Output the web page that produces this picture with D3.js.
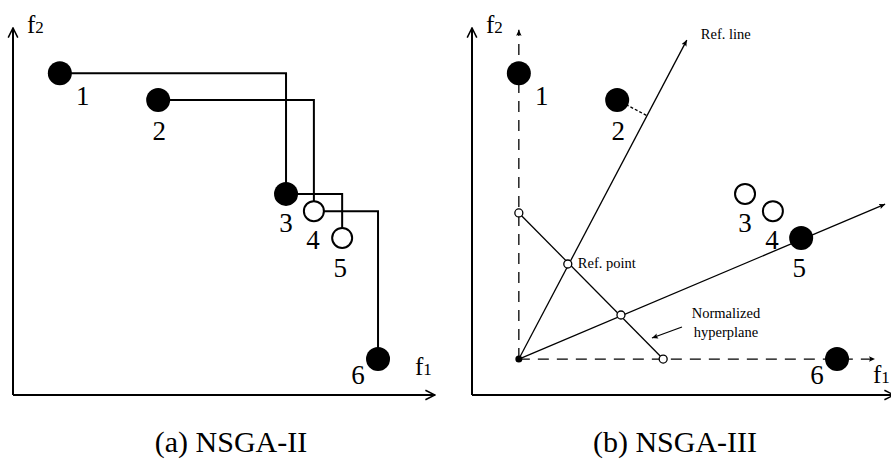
<!DOCTYPE html>
<html>
<head>
<meta charset="utf-8">
<script src="https://cdn.jsdelivr.net/npm/d3@7"></script>
<style>
  html, body { margin: 0; padding: 0; background: #fff; }
  svg { display: block; font-family: "Liberation Serif", "DejaVu Serif", serif; }
</style>
</head>
<body>
<div id="chart"></div>
<script>
// Solutions in objective space (same six points in both panels)
var solLabels = ['1', '2', '3', '4', '5', '6'];
var solF1 = [1.11, 3.44, 6.47, 7.13, 7.80, 8.65];
var solF2 = [8.77, 8.04, 5.48, 5.01, 4.28, 0.98];
// which solutions survive (filled) in each panel
var keptA = [true, true, true, false, false, true];
var keptB = [true, true, false, false, true, true];

// NSGA-III reference structure
var hyperInterceptF1 = 4.53;
var hyperInterceptF2 = 4.96;
var refPointF1 = [2.27, 3.53];
var refPointF2 = [3.57, 2.18];
var refLineEndF1 = [5.09, 9.79];
var refLineEndF2 = [9.67, 5.20];

var captions = ['(a) NSGA-II', '(b) NSGA-III'];

var W = 891, H = 462;
var PANEL_W = 422, PANEL_H = 367;
var panelOrigins = [{ x: 13, y: 395 }, { x: 472, y: 395 }];
var captionX = [231, 675];
var CAPTION_Y = 452;

var x = d3.scaleLinear().domain([0, 10]).range([0, PANEL_W]);
var y = d3.scaleLinear().domain([0, 10]).range([0, -PANEL_H]);

// label offsets (px) relative to the solution centre
var labelDx = [23, 1, 0, -1, -2, -20];
var labelDy = [32, 40, 38, 38, 39, 25];

var svg = d3.select('#chart').append('svg')
  .attr('width', W)
  .attr('height', H);

var defs = svg.append('defs');
defs.append('marker')
  .attr('id', 'axis-arrow')
  .attr('viewBox', '0 0 10 10')
  .attr('refX', 9)
  .attr('refY', 5)
  .attr('markerWidth', 6)
  .attr('markerHeight', 6)
  .attr('markerUnits', 'strokeWidth')
  .attr('orient', 'auto')
  .append('path')
  .attr('d', 'M1,1 L9,5 L1,9')
  .attr('fill', 'none')
  .attr('stroke', '#000')
  .attr('stroke-width', 1.3);
defs.append('marker')
  .attr('id', 'thin-arrow')
  .attr('viewBox', '0 0 10 10')
  .attr('refX', 10)
  .attr('refY', 5)
  .attr('markerWidth', 6)
  .attr('markerHeight', 6)
  .attr('markerUnits', 'userSpaceOnUse')
  .attr('orient', 'auto')
  .append('path')
  .attr('d', 'M0,0.5 L10,5 L0,9.5 L2,5 z')
  .attr('fill', '#000');

var sols = solLabels.map(function(l, i) {
  return { label: l, f1: solF1[i], f2: solF2[i], i: i };
});

function drawAxes(g, fLabelX, f1Y) {
  g.append('line')
    .attr('x1', 0).attr('y1', 0)
    .attr('x2', 0).attr('y2', y(10))
    .attr('stroke', '#000').attr('stroke-width', 2)
    .attr('marker-end', 'url(#axis-arrow)');
  g.append('line')
    .attr('x1', 0).attr('y1', 0)
    .attr('x2', x(10)).attr('y2', 0)
    .attr('stroke', '#000').attr('stroke-width', 2)
    .attr('marker-end', 'url(#axis-arrow)');

  var t2 = g.append('text')
    .attr('x', 14).attr('y', y(10) + 5)
    .attr('font-size', '25px');
  t2.append('tspan').text('f');
  t2.append('tspan').attr('font-size', '17px').text('2');

  var t1 = g.append('text')
    .attr('x', fLabelX).attr('y', f1Y)
    .attr('font-size', '25px');
  t1.append('tspan').text('f');
  t1.append('tspan').attr('font-size', '17px').text('1');
}

function drawSolutions(g, kept) {
  var node = g.selectAll('g.sol').data(sols).enter().append('g').attr('class', 'sol');
  node.append('circle')
    .attr('cx', function(d) { return x(d.f1); })
    .attr('cy', function(d) { return y(d.f2); })
    .attr('r', function(d) { return kept[d.i] ? 12 : 10; })
    .attr('fill', function(d) { return kept[d.i] ? '#000' : '#fff'; })
    .attr('stroke', '#000')
    .attr('stroke-width', function(d) { return kept[d.i] ? 0 : 2; });
  node.append('text')
    .attr('x', function(d) { return x(d.f1) + labelDx[d.i]; })
    .attr('y', function(d) { return y(d.f2) + labelDy[d.i]; })
    .attr('text-anchor', 'middle')
    .attr('font-size', '27px')
    .text(function(d) { return d.label; });
}

// ---- panel (a): crowding distance cuboids ----
var gA = svg.append('g')
  .attr('transform', 'translate(' + panelOrigins[0].x + ',' + panelOrigins[0].y + ')');
drawAxes(gA, 402, -20);

sols.slice(0, sols.length - 2).forEach(function(s, i) {
  var t = sols[i + 2];
  gA.append('path')
    .attr('d', 'M' + x(s.f1) + ',' + y(s.f2)
      + 'H' + x(t.f1) + 'V' + y(t.f2))
    .attr('fill', 'none')
    .attr('stroke', '#000')
    .attr('stroke-width', 2);
});
drawSolutions(gA, keptA);

// ---- panel (b): reference points ----
var gB = svg.append('g')
  .attr('transform', 'translate(' + panelOrigins[1].x + ',' + panelOrigins[1].y + ')');
drawAxes(gB, 401, -12);

var idealF1 = d3.min(solF1);
var idealF2 = d3.min(solF2);
var ox = x(idealF1), oy = y(idealF2);

// dashed normalised axes
gB.append('line')
  .attr('x1', ox).attr('y1', oy)
  .attr('x2', ox).attr('y2', y(9.95))
  .attr('stroke', '#000').attr('stroke-width', 1.3)
  .attr('stroke-dasharray', '11,8')
  .attr('marker-end', 'url(#thin-arrow)');
gB.append('line')
  .attr('x1', ox).attr('y1', oy)
  .attr('x2', x(9.55)).attr('y2', oy)
  .attr('stroke', '#000').attr('stroke-width', 1.3)
  .attr('stroke-dasharray', '11,8')
  .attr('marker-end', 'url(#thin-arrow)');

// reference lines
refLineEndF1.forEach(function(ef1, i) {
  gB.append('line')
    .attr('x1', ox).attr('y1', oy)
    .attr('x2', x(ef1)).attr('y2', y(refLineEndF2[i]))
    .attr('stroke', '#000').attr('stroke-width', 1.3)
    .attr('marker-end', 'url(#thin-arrow)');
});

// perpendicular distance of solution 2 to the first reference line
(function() {
  var s = sols[1];
  var dx = x(refLineEndF1[0]) - ox, dy = y(refLineEndF2[0]) - oy;
  var len = Math.sqrt(dx * dx + dy * dy);
  var ux = dx / len, uy = dy / len;
  var px = x(s.f1) - ox, py = y(s.f2) - oy;
  var t = px * ux + py * uy;
  gB.append('line')
    .attr('x1', x(s.f1)).attr('y1', y(s.f2))
    .attr('x2', ox + t * ux).attr('y2', oy + t * uy)
    .attr('stroke', '#000').attr('stroke-width', 1.3)
    .attr('stroke-dasharray', '3,2');
})();

// normalized hyperplane
gB.append('line')
  .attr('x1', ox).attr('y1', y(hyperInterceptF2))
  .attr('x2', x(hyperInterceptF1)).attr('y2', oy)
  .attr('stroke', '#000').attr('stroke-width', 1.3);

var smallPts = [[idealF1, hyperInterceptF2], [hyperInterceptF1, idealF2]];
refPointF1.forEach(function(v, i) { smallPts.push([v, refPointF2[i]]); });
gB.selectAll('circle.ref').data(smallPts).enter().append('circle')
  .attr('class', 'ref')
  .attr('cx', function(d) { return x(d[0]); })
  .attr('cy', function(d) { return y(d[1]); })
  .attr('r', 4)
  .attr('fill', '#fff')
  .attr('stroke', '#000')
  .attr('stroke-width', 1.3);

gB.append('circle')
  .attr('cx', ox).attr('cy', oy).attr('r', 3.5)
  .attr('fill', '#000');

// annotations
gB.append('text')
  .attr('x', x(refLineEndF1[0]) + 14).attr('y', y(refLineEndF2[0]) - 1)
  .attr('font-size', '14.5px')
  .text('Ref. line');
gB.append('text')
  .attr('x', x(refPointF1[0]) + 10).attr('y', y(refPointF2[0]) + 4)
  .attr('font-size', '14.5px')
  .text('Ref. point');

var hx = x(refPointF1[1]) + 105, hy = y(refPointF2[1]) + 3;
gB.append('text')
  .attr('x', hx).attr('y', hy)
  .attr('text-anchor', 'middle')
  .attr('font-size', '14.5px')
  .text('Normalized');
gB.append('text')
  .attr('x', hx).attr('y', hy + 19)
  .attr('text-anchor', 'middle')
  .attr('font-size', '14.5px')
  .text('hyperplane');
gB.append('line')
  .attr('x1', hx - 44).attr('y1', hy + 9)
  .attr('x2', hx - 74).attr('y2', hy + 20)
  .attr('stroke', '#000').attr('stroke-width', 1.3)
  .attr('marker-end', 'url(#thin-arrow)');

drawSolutions(gB, keptB);

// captions
captions.forEach(function(c, i) {
  svg.append('text')
    .attr('x', captionX[i]).attr('y', CAPTION_Y)
    .attr('text-anchor', 'middle')
    .attr('font-size', '30px')
    .text(c);
});
</script>
</body>
</html>
